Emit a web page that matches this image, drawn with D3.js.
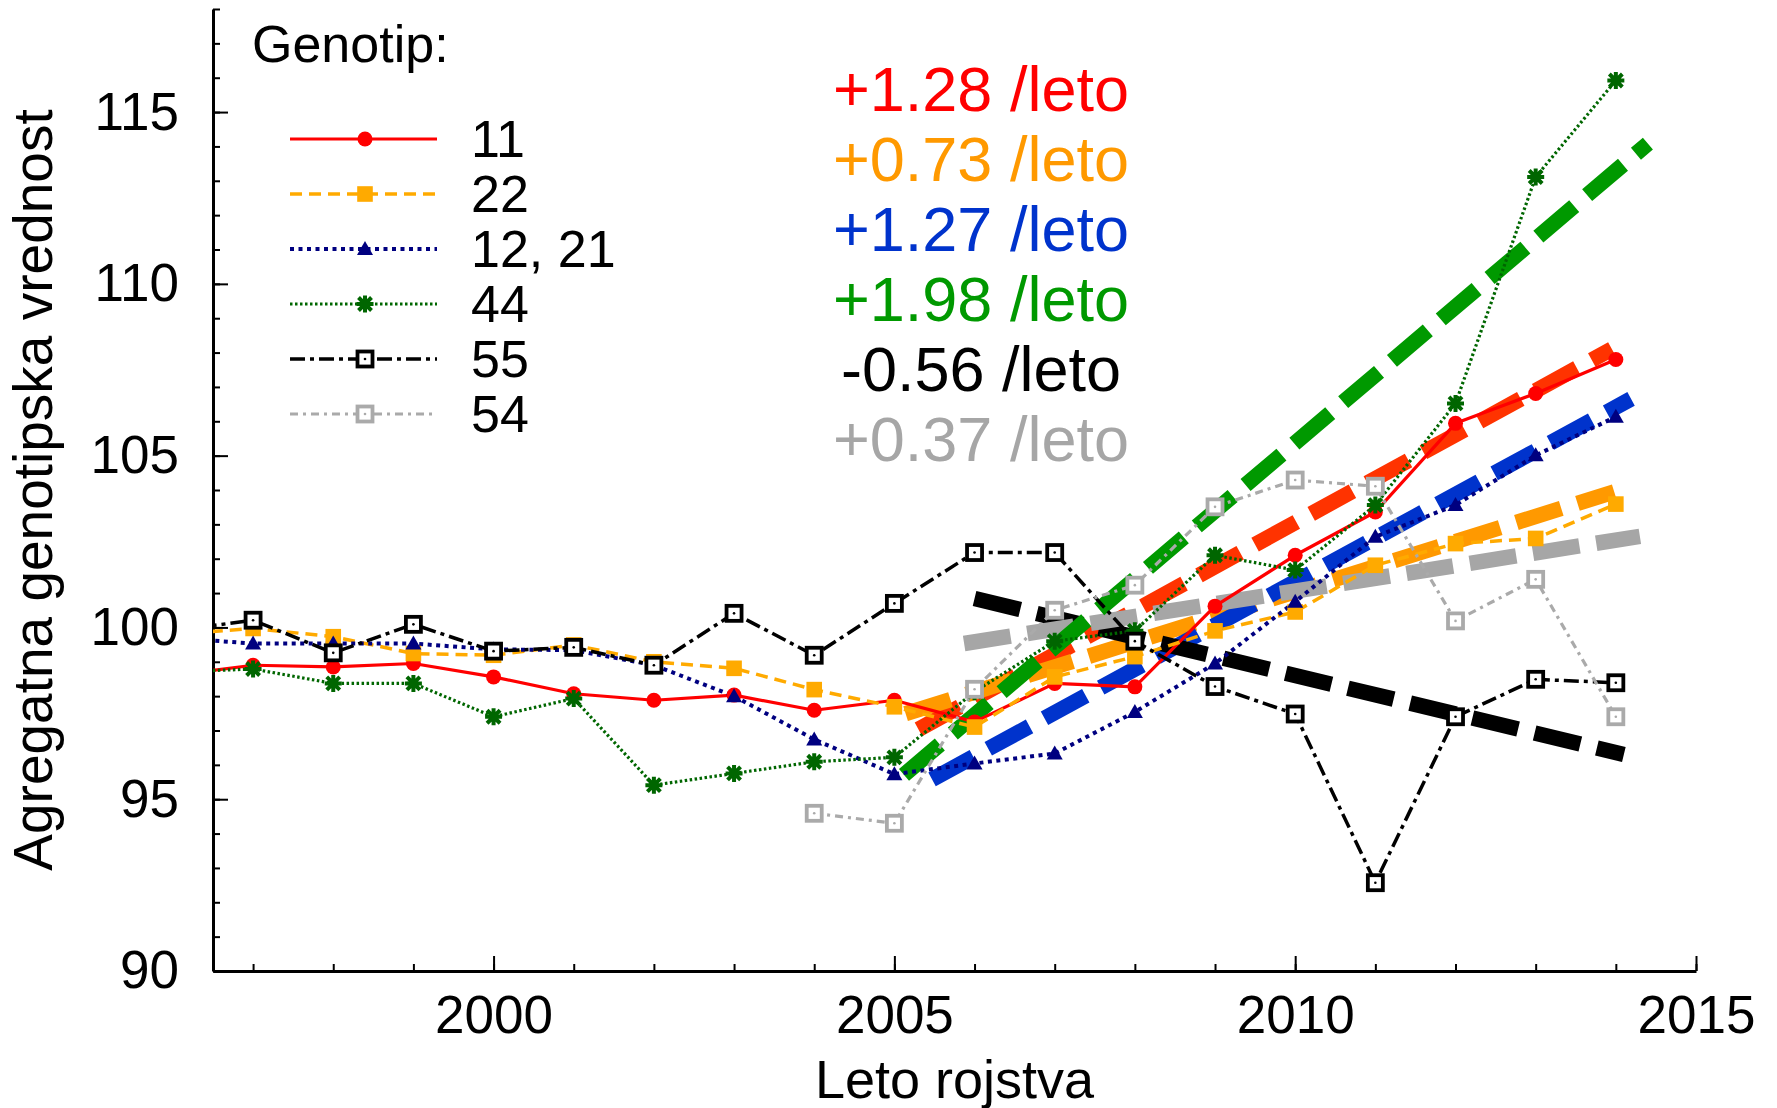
<!DOCTYPE html>
<html>
<head>
<meta charset="utf-8">
<script src="https://cdn.jsdelivr.net/npm/d3@7"></script>
<style>
  html, body { margin: 0; padding: 0; background: #fff; }
  svg { display: block; }
  text { font-family: "Liberation Sans", Arial, Helvetica, sans-serif; }
</style>
</head>
<body>
<script>
// Birth years and aggregate genotype values per genotype group
const years = d3.range(1996, 2015);
const g11   = [98.6, 98.9, 98.85, 98.95, 98.56, 98.07, 97.88, 98.03, 97.59, 97.88, 97.25, 98.37, 98.27, 100.62, 102.10, 103.36, 105.94, 106.81, 107.80];
const g22   = [99.8, 99.97, 99.73, 99.24, 99.19, 99.49, 99.0, 98.81, 98.19, 97.69, 97.1, 98.56, 99.15, 99.9, 100.45, 101.81, 102.44, 102.59, 103.59];
const g1221 = [99.7, 99.53, 99.53, 99.53, 99.36, 99.34, 98.9, 98.0, 96.74, 95.73, 96.04, 96.33, 97.54, 98.95, 100.75, 102.64, 103.56, 105.01, 106.13];
const g44   = [98.7, 98.79, 98.37, 98.37, 97.40, 97.93, 95.41, 95.75, 96.09, 96.22, 98.13, 99.6, 99.9, 102.10, 101.67, 103.56, 106.52, 113.11, 115.92];
const g55   = [99.9, 100.21, 99.26, 100.09, 99.31, 99.42, 98.90, 100.41, 99.19, 100.70, 102.18, 102.18, 99.6, 98.28, 97.48, 92.57, 97.40, 98.49, 98.39];
const years54 = d3.range(2004, 2015);
const g54   = [94.59, 94.30, 98.2, 100.5, 101.23, 103.51, 104.29, 104.11, 100.19, 101.40, 97.40];

// Linear trends: slope per year, value at 2010, drawn year range
const trendLabels = ["+1.28 /leto", "+0.73 /leto", "+1.27 /leto", "+1.98 /leto", "-0.56 /leto", "+0.37 /leto"];
const trendSlope  = [1.28, 0.73, 1.27, 1.98, -0.56, 0.37];
const trendAt2010 = [103.05, 101.04, 101.33, 105.37, 98.60, 101.06];
const trendFrom   = [2005.3, 2005.14, 2005.47, 2005.12, 2006.0, 2005.87];
const trendTo     = [2013.95, 2013.98, 2014.19, 2014.4, 2014.1, 2014.3];
const trendColors = ["#FF3300", "#FF9900", "#0033CC", "#009900", "#000000", "#A6A6A6"];
const labelColors = ["#FF0000", "#FF9900", "#0033CC", "#009900", "#000000", "#A6A6A6"];
const trendOrder  = [0, 1, 2, 4, 5, 3];

// Axis ticks
const yMajor = [90, 95, 100, 105, 110, 115];
const yMinor = d3.range(90, 119);
const xMajor = [2000, 2005, 2010, 2015];
const xMinor = d3.range(1997, 2016);

const series = [
  { name: "11",     xs: years,   ys: g11,   color: "#FF0000", width: 3.2, dash: null,          marker: "circle" },
  { name: "22",     xs: years,   ys: g22,   color: "#FFAA00", width: 3.5, dash: "12,7",        marker: "square" },
  { name: "12, 21", xs: years,   ys: g1221, color: "#000080", width: 4,   dash: "4,4.5",       marker: "triangle" },
  { name: "44",     xs: years,   ys: g44,   color: "#006600", width: 3.2, dash: "2.5,2.5",     marker: "asterisk" },
  { name: "55",     xs: years,   ys: g55,   color: "#000000", width: 3.5, dash: "15,5,4,5",    marker: "open" },
  { name: "54",     xs: years54, ys: g54,   color: "#AAAAAA", width: 3.2, dash: "8,5,3,5",     marker: "open" }
];

const W = 1777, H = 1108;
const plotLeft = 213, plotRight = 1696, plotTop = 9, plotBottom = 971;
const FONT = '"Liberation Sans", Arial, Helvetica, sans-serif';

const x = d3.scaleLinear().domain([1996.5, 2015]).range([plotLeft, plotRight]);
const y = d3.scaleLinear().domain([90, 118]).range([plotBottom, plotTop]);

const svg = d3.select("body").append("svg").attr("width", W).attr("height", H);

svg.append("defs").append("clipPath").attr("id", "plotClip")
  .append("rect").attr("x", plotLeft).attr("y", 0).attr("width", plotRight - plotLeft + 40).attr("height", plotBottom);

// Axes: minor ticks, major ticks with labels, ticks pointing inward
function styleAxis(g, size) {
  g.attr("font-family", FONT).attr("font-size", size);
  g.selectAll(".tick line").attr("stroke", "#000").attr("stroke-width", 2);
  g.selectAll(".tick text").attr("fill", "#000");
}

const yMinorAxis = svg.append("g").attr("transform", `translate(${plotLeft},0)`)
  .call(d3.axisLeft(y).tickValues(yMinor).tickSize(-7).tickFormat(""));
yMinorAxis.select(".domain").remove();
styleAxis(yMinorAxis, 53);

const yMajorAxis = svg.append("g").attr("transform", `translate(${plotLeft},0)`)
  .call(d3.axisLeft(y).tickValues(yMajor).tickSize(-15).tickSizeOuter(0).tickPadding(34).tickFormat(d3.format("d")));
yMajorAxis.select(".domain").attr("stroke", "#000").attr("stroke-width", 3);
styleAxis(yMajorAxis, 53);

const xMinorAxis = svg.append("g").attr("transform", `translate(0,${plotBottom})`)
  .call(d3.axisBottom(x).tickValues(xMinor).tickSize(-7).tickFormat(""));
xMinorAxis.select(".domain").remove();
styleAxis(xMinorAxis, 53);

const xMajorAxis = svg.append("g").attr("transform", `translate(0,${plotBottom})`)
  .call(d3.axisBottom(x).tickValues(xMajor).tickSize(-15).tickSizeOuter(0).tickPadding(24).tickFormat(d3.format("d")));
xMajorAxis.select(".domain").attr("stroke", "#000").attr("stroke-width", 3);
styleAxis(xMajorAxis, 53);

// Axis titles
svg.append("text")
  .attr("x", (plotLeft + plotRight) / 2).attr("y", 1098)
  .attr("text-anchor", "middle").attr("font-size", 54).attr("font-family", FONT)
  .text("Leto rojstva");

svg.append("text")
  .attr("transform", `translate(52,${(plotTop + plotBottom) / 2}) rotate(-90)`)
  .attr("text-anchor", "middle").attr("font-size", 55).attr("font-family", FONT)
  .text("Agregatna genotipska vrednost");

// Markers
function drawMarker(g, type, color) {
  if (type === "circle") {
    g.append("circle").attr("r", 7.5).attr("fill", color);
  } else if (type === "square") {
    g.append("rect").attr("x", -7.8).attr("y", -7.8).attr("width", 15.6).attr("height", 15.6).attr("fill", color);
  } else if (type === "triangle") {
    g.append("path").attr("d", "M0,-8L8,6L-8,6Z").attr("fill", color);
  } else if (type === "asterisk") {
    g.append("path").attr("d", "M-8.5,0H8.5M0,-8.5V8.5M-6.5,-6.5L6.5,6.5M-6.5,6.5L6.5,-6.5")
      .attr("stroke", color).attr("stroke-width", 4).attr("fill", "none");
  } else if (type === "open") {
    g.append("rect").attr("x", -7.5).attr("y", -7.5).attr("width", 15).attr("height", 15)
      .attr("fill", "#fff").attr("stroke", color).attr("stroke-width", 3.8);
    g.append("circle").attr("r", 1.3).attr("fill", color);
  }
}

// Trend lines (thick dashed)
const trendG = svg.append("g").attr("clip-path", "url(#plotClip)");
trendOrder.forEach(i => {
  const f = yr => trendAt2010[i] + trendSlope[i] * (yr - 2010);
  trendG.append("line")
    .attr("x1", x(trendFrom[i])).attr("y1", y(f(trendFrom[i])))
    .attr("x2", x(trendTo[i])).attr("y2", y(f(trendTo[i])))
    .attr("stroke", trendColors[i]).attr("stroke-width", 15.5)
    .attr("stroke-dasharray", "47,17").attr("stroke-linecap", "butt");
});

// Data series lines and markers
const dataG = svg.append("g").attr("clip-path", "url(#plotClip)");
const line = d3.line().x(d => x(d[0])).y(d => y(d[1]));
series.forEach(s => {
  const pts = s.xs.map((yr, k) => [yr, s.ys[k]]);
  dataG.append("path").datum(pts).attr("d", line)
    .attr("fill", "none").attr("stroke", s.color).attr("stroke-width", s.width)
    .attr("stroke-dasharray", s.dash).attr("stroke-linejoin", "round");
});
series.forEach(s => {
  s.xs.forEach((yr, k) => {
    if (yr < 1996.5) return;
    const g = dataG.append("g").attr("transform", `translate(${x(yr)},${y(s.ys[k])})`);
    drawMarker(g, s.marker, s.color);
  });
});

// Legend
svg.append("text").attr("x", 252).attr("y", 62)
  .attr("font-size", 52).attr("font-family", FONT).text("Genotip:");
series.forEach((s, i) => {
  const ly = 139 + i * 55;
  svg.append("line").attr("x1", 290).attr("x2", 437).attr("y1", ly).attr("y2", ly)
    .attr("stroke", s.color).attr("stroke-width", s.width).attr("stroke-dasharray", s.dash);
  drawMarker(svg.append("g").attr("transform", `translate(365,${ly})`), s.marker, s.color);
  svg.append("text").attr("x", 471).attr("y", ly + 18)
    .attr("font-size", 52).attr("font-family", FONT).text(s.name);
});

// Slope labels
trendLabels.forEach((t, i) => {
  svg.append("text").attr("x", 981).attr("y", 111 + i * 70)
    .attr("text-anchor", "middle").attr("font-size", 63).attr("font-family", FONT)
    .attr("fill", labelColors[i]).text(t);
});
</script>
</body>
</html>
